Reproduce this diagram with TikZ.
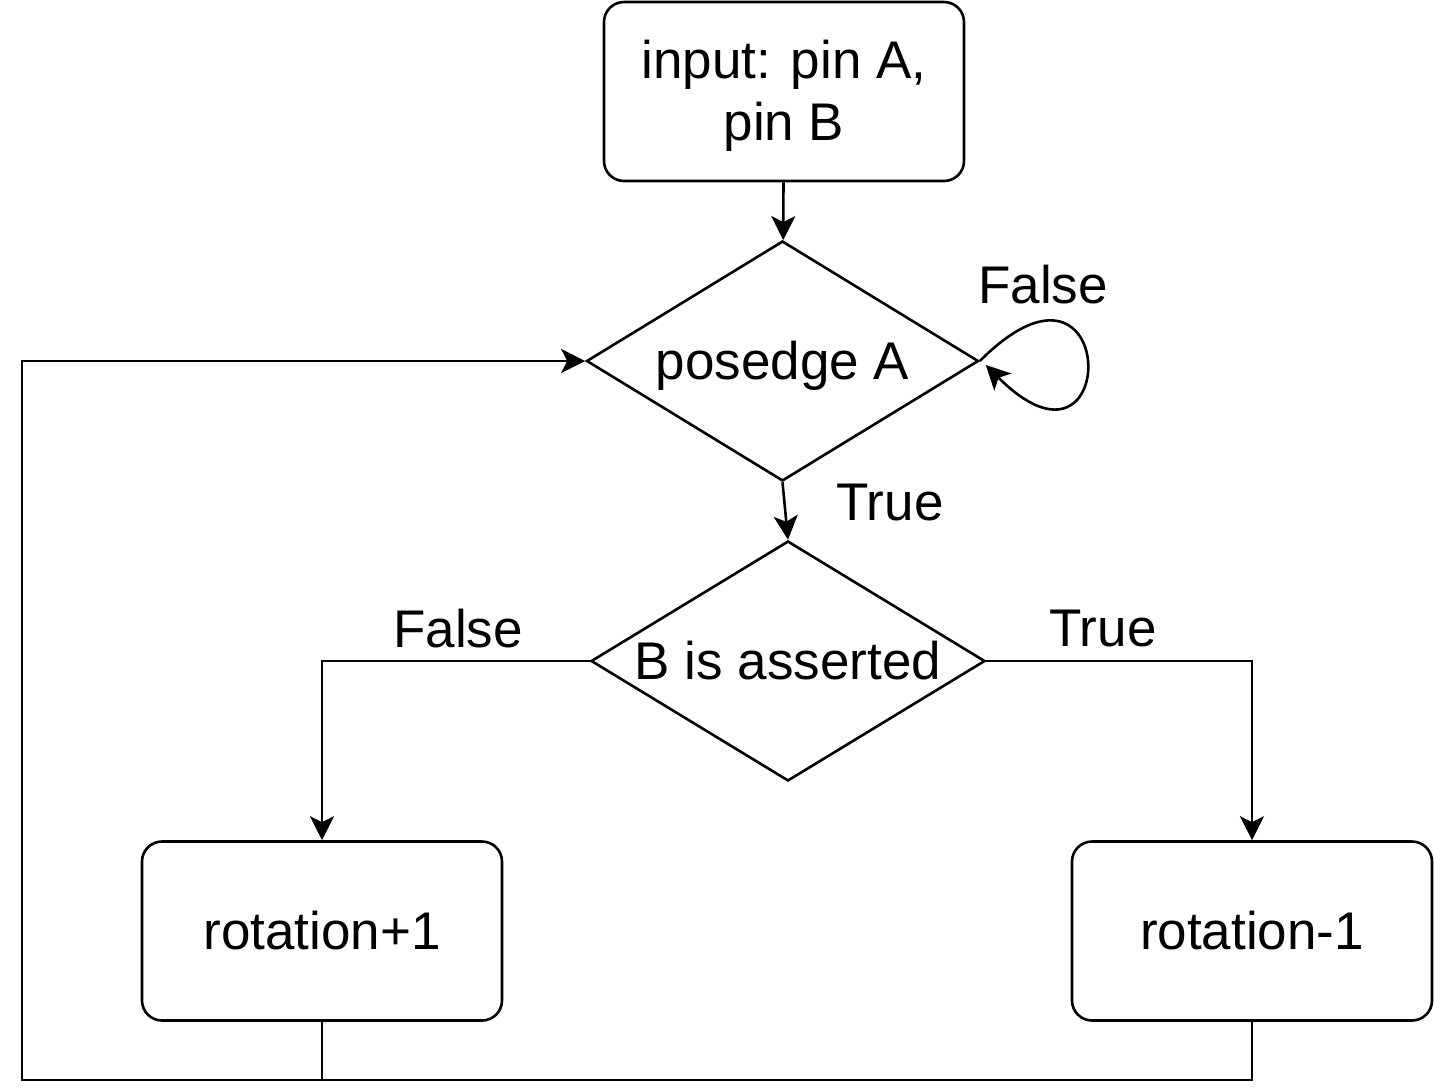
\documentclass[tikz,border=0pt]{standalone}
\usepackage{fontspec}
\setmainfont{Liberation Sans}
\usetikzlibrary{positioning,arrows.meta,shapes.geometric}

\begin{document}
\begin{tikzpicture}[
  x=0.5pt, y=-0.5pt,
  every node/.style={font=\fontsize{26.5}{31}\selectfont},
  box/.style={draw, line width=1.3pt, rounded corners=10pt, minimum width=180pt, minimum height=89.5pt, align=center, inner sep=0pt},
  cond/.style={draw, line width=1.3pt, diamond, aspect=1.63, minimum width=196pt, minimum height=120pt, inner sep=0pt, text height=18.4pt, text depth=0pt},
  lbl/.style={inner sep=0pt},
  arrow/.style={-{Stealth[length=12pt,width=12pt,inset=3pt]}, line width=1.3pt},
  wire/.style={line width=1.3pt}
]
\useasboundingbox (0,0) rectangle (1434,1089);

\node[box, text depth=1.6pt] (in) at (784,91.5) {input: pin A,\\pin B};
\node[cond] (pos) at (782.5,361) {posedge A};
\node[cond, minimum width=197pt] (bas) at (788,661) {B is asserted};
\node[box, text height=18.4pt, text depth=0pt] (inc) at (322,931) {rotation+1};
\node[box, text height=18.4pt, text depth=0pt] (dec) at (1252,931) {rotation-1};
\coordinate (back) at (22,1080);

\draw[arrow] (in) -- (pos);
\draw[arrow] (pos.south) -- (bas.north);
\draw[arrow] (pos.east) .. controls +(141,-141) and +(136,136) .. ([xshift=3pt,yshift=-2pt]pos.east);
\draw[arrow] (bas.west) -| (inc.north);
\draw[arrow] (bas.east) -| (dec.north);
\draw[wire] (inc.south) -- (inc.south |- back);
\draw[arrow] (dec.south) |- (back) |- (pos.west);

\node[lbl] (f1) at (1043,285) {False};
\node[lbl] (t1) at (890,503) {True};
\node[lbl] (f2) at (458,629) {False};
\node[lbl] (t2) at (1103,629) {True};
\end{tikzpicture}
\end{document}
